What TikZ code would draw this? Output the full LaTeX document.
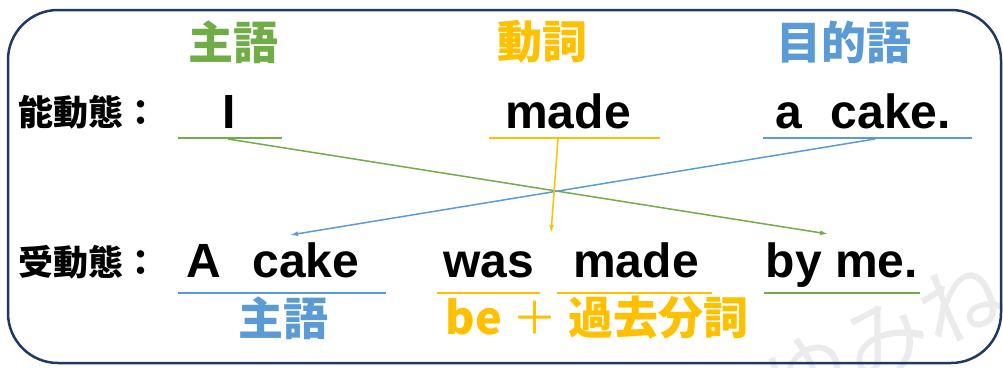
\documentclass[tikz,border=0pt]{standalone}
\usepackage{fontspec}
\setmainfont{Liberation Sans}
\newfontfamily\jp{Noto Sans CJK JP}
\usetikzlibrary{arrows.meta}
\definecolor{subjgreen}{HTML}{70AD47}
\definecolor{verbgold}{HTML}{FFC000}
\definecolor{objblue}{HTML}{5B9BD5}
\definecolor{framenavy}{HTML}{203864}
\tikzset{
  word/.style={font=\bfseries\fontsize{48}{48}\selectfont,inner sep=0pt,anchor=base},
  role/.style={font=\jp\bfseries\fontsize{45}{45}\selectfont,inner sep=0pt},
  voice/.style={font=\jp\bfseries\fontsize{35}{35}\selectfont,inner sep=0pt,anchor=west},
  uline/.style={line width=1.5pt},
  link/.style={line width=1.5pt,->},
}

\begin{document}
\begin{tikzpicture}[x=1pt,y=-1pt,>={Latex[length=8pt,width=5pt]}]
   \useasboundingbox (0,0) rectangle (1003,367);
   % Watermark
   \begin{scope}
    \clip (0,0) rectangle (1003,367);
    \node [rotate=25,text=black!8,font=\jp\fontsize{85}{85}\selectfont] (mark) at (885,338) {ゆみね};
   \end{scope}
   % Frame
   \draw [framenavy,line width=2.5pt,rounded corners=50pt] (8,10) rectangle (1001,363);
   % Roles
   \node [role,text=subjgreen] (rSubj) at (233,42) {主語};
   \node [role,text=verbgold] (rVerb) at (542,42) {動詞};
   \node [role,text=objblue] (rObj) at (844,42) {目的語};
   % Active voice
   \node [voice] (active) at (18,112) {能動態：};
   \node [word] (wI) at (229,128) {I};
   \node [word] (wMade) at (568,128) {made};
   \node [word] (wCake) at (863,128) {a\hspace{.6em}cake.};
   % Passive voice
   \node [voice] (passive) at (18,262) {受動態：};
   \node [word] (pCake) at (273,277) {A\hspace{.65em}cake};
   \node [word] (pWas) at (489,277) {was};
   \node [word] (pMade) at (636,277) {made};
   \node [word] (pBy) at (842,277) {by me.};
   % Roles below
   \node [role,text=objblue] (bSubj) at (283,318) {主語};
   \node [role,text=verbgold] (bVerb) at (597,318) {be {\mdseries ＋} 過去分詞};
   % Underlines
   \draw [uline,subjgreen] (178,138) coordinate (uIa) -- (282,138) coordinate (uIb);
   \draw [uline,verbgold] (489,138) coordinate (uMa) -- (660,138) coordinate (uMb);
   \draw [uline,objblue] (763,138) coordinate (uCa) -- (972,138) coordinate (uCb);
   \draw [uline,objblue] (178,293) coordinate (vCa) -- (386,293) coordinate (vCb);
   \draw [uline,verbgold] (437,293) coordinate (vWa) -- (540,293) coordinate (vWb);
   \draw [uline,verbgold] (557,293) coordinate (vMa) -- (712,293) coordinate (vMb);
   \draw [uline,subjgreen] (764,293) coordinate (vBa) -- (920,293) coordinate (vBb);
   % Links
   \coordinate (sI) at (228,139);
   \coordinate (sMade) at (558,139);
   \coordinate (sCake) at (875,139);
   \coordinate (tBy) at (828,234);
   \coordinate (tMade) at (551,233);
   \coordinate (tCake) at (290,235);
   \draw [link,subjgreen] (sI) -- (tBy);
   \draw [link,objblue] (sCake) -- (tCake);
   \draw [link,verbgold] (sMade) -- (tMade);
\end{tikzpicture}
\end{document}
